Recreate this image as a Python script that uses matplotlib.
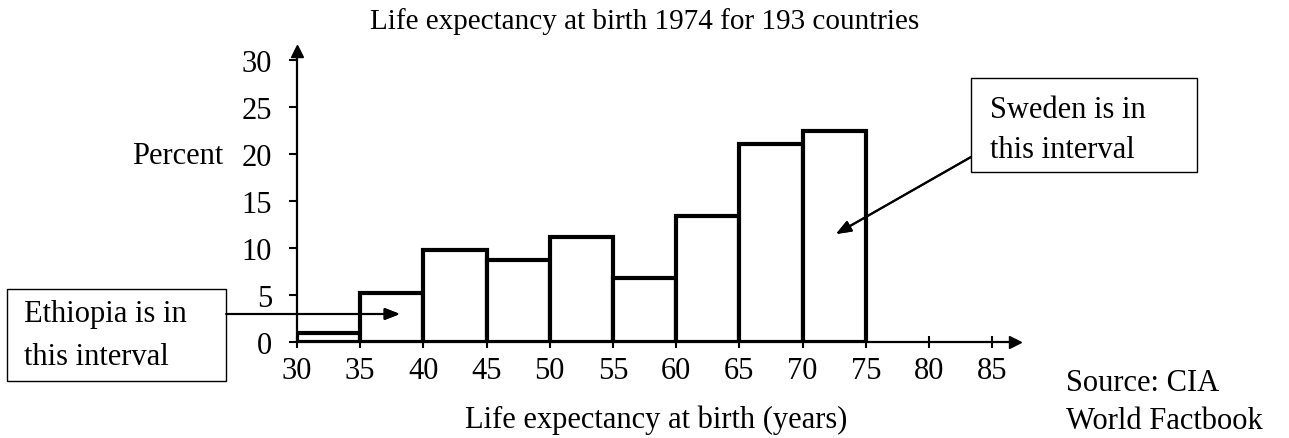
import matplotlib
matplotlib.use("Agg")
import matplotlib.pyplot as plt
from matplotlib.patches import Rectangle

# ---- data ----
bin_edges = [30, 35, 40, 45, 50, 55, 60, 65, 70, 75]
percent = [1.0, 5.2, 9.8, 8.7, 11.2, 6.8, 13.4, 21.1, 22.5]
x_ticks = [30, 35, 40, 45, 50, 55, 60, 65, 70, 75, 80, 85]
y_ticks = [0, 5, 10, 15, 20, 25, 30]
title = "Life expectancy at birth 1974 for 193 countries"
xlabel = "Life expectancy at birth (years)"
ylabel = "Percent"

W, H = 1289, 439
plt.rcParams['font.family'] = ['Liberation Serif', 'DejaVu Serif']
FS = 22

fig = plt.figure(figsize=(W / 100, H / 100), dpi=100)
fig.patch.set_facecolor('white')

def fx(px):
    return px / W

def fy(py):
    return 1 - py / H

ax = fig.add_axes([fx(297), fy(343), fx(1015) - fx(297), fy(52) - fy(343)])
ax.set_xlim(30, 30 + (1015 - 297) / 12.64)
ax.set_ylim(0, (343 - 52) / 9.4)

lefts = bin_edges[:-1]
widths = [b - a for a, b in zip(bin_edges[:-1], bin_edges[1:])]
ax.bar(lefts, percent, width=widths, align='edge', facecolor='white',
       edgecolor='black', linewidth=3, zorder=2)

for s in ['top', 'right']:
    ax.spines[s].set_visible(False)
for s in ['left', 'bottom']:
    ax.spines[s].set_linewidth(1.6)
    ax.spines[s].set_zorder(3)

ax.plot(1, 0, '>', color='black', markersize=9, transform=ax.get_yaxis_transform(), clip_on=False, zorder=4)
ax.plot(30, 1, '^', color='black', markersize=9, transform=ax.get_xaxis_transform(), clip_on=False, zorder=4)

ax.set_xticks(x_ticks)
ax.set_yticks(y_ticks)
ax.tick_params(axis='x', direction='inout', length=8, width=1.5, labelsize=FS, pad=6)
ax.tick_params(axis='y', direction='out', length=6, width=1.5, labelsize=FS, pad=12)

fig.text(fx(645), fy(22), title, ha='center', va='center', fontsize=21)
fig.text(fx(656), fy(420), xlabel, ha='center', va='center', fontsize=FS)
fig.text(fx(178), fy(157), ylabel, ha='center', va='center', fontsize=FS)
fig.text(fx(1066), fy(384), "Source: CIA", ha='left', va='center', fontsize=FS)
fig.text(fx(1066), fy(422), "World Factbook", ha='left', va='center', fontsize=FS)

# Ethiopia box
fig.add_artist(Rectangle((fx(7), fy(382)), fx(226) - fx(7), fy(290) - fy(382),
                         transform=fig.transFigure, facecolor='white', edgecolor='black', linewidth=1.0))
fig.text(fx(24), fy(315), "Ethiopia is in", ha='left', va='center', fontsize=FS)
fig.text(fx(24), fy(358), "this interval", ha='left', va='center', fontsize=FS)

# Sweden box
fig.add_artist(Rectangle((fx(971), fy(173)), fx(1197) - fx(971), fy(79) - fy(173),
                         transform=fig.transFigure, facecolor='white', edgecolor='black', linewidth=1.0))
fig.text(fx(990), fy(111), "Sweden is in", ha='left', va='center', fontsize=FS)
fig.text(fx(990), fy(151), "this interval", ha='left', va='center', fontsize=FS)

arrowprops = dict(arrowstyle='-|>,head_length=0.9,head_width=0.35', color='black', lw=1.5,
                  shrinkA=0, shrinkB=0)
fig.add_artist(plt.annotate("", xy=(fx(400), fy(315)), xytext=(fx(226), fy(315)),
                            xycoords='figure fraction', textcoords='figure fraction',
                            arrowprops=arrowprops, zorder=5))
fig.add_artist(plt.annotate("", xy=(fx(836), fy(235)), xytext=(fx(971), fy(158)),
                            xycoords='figure fraction', textcoords='figure fraction',
                            arrowprops=arrowprops, zorder=5))

fig.savefig("out.png", dpi=100, facecolor='white')
